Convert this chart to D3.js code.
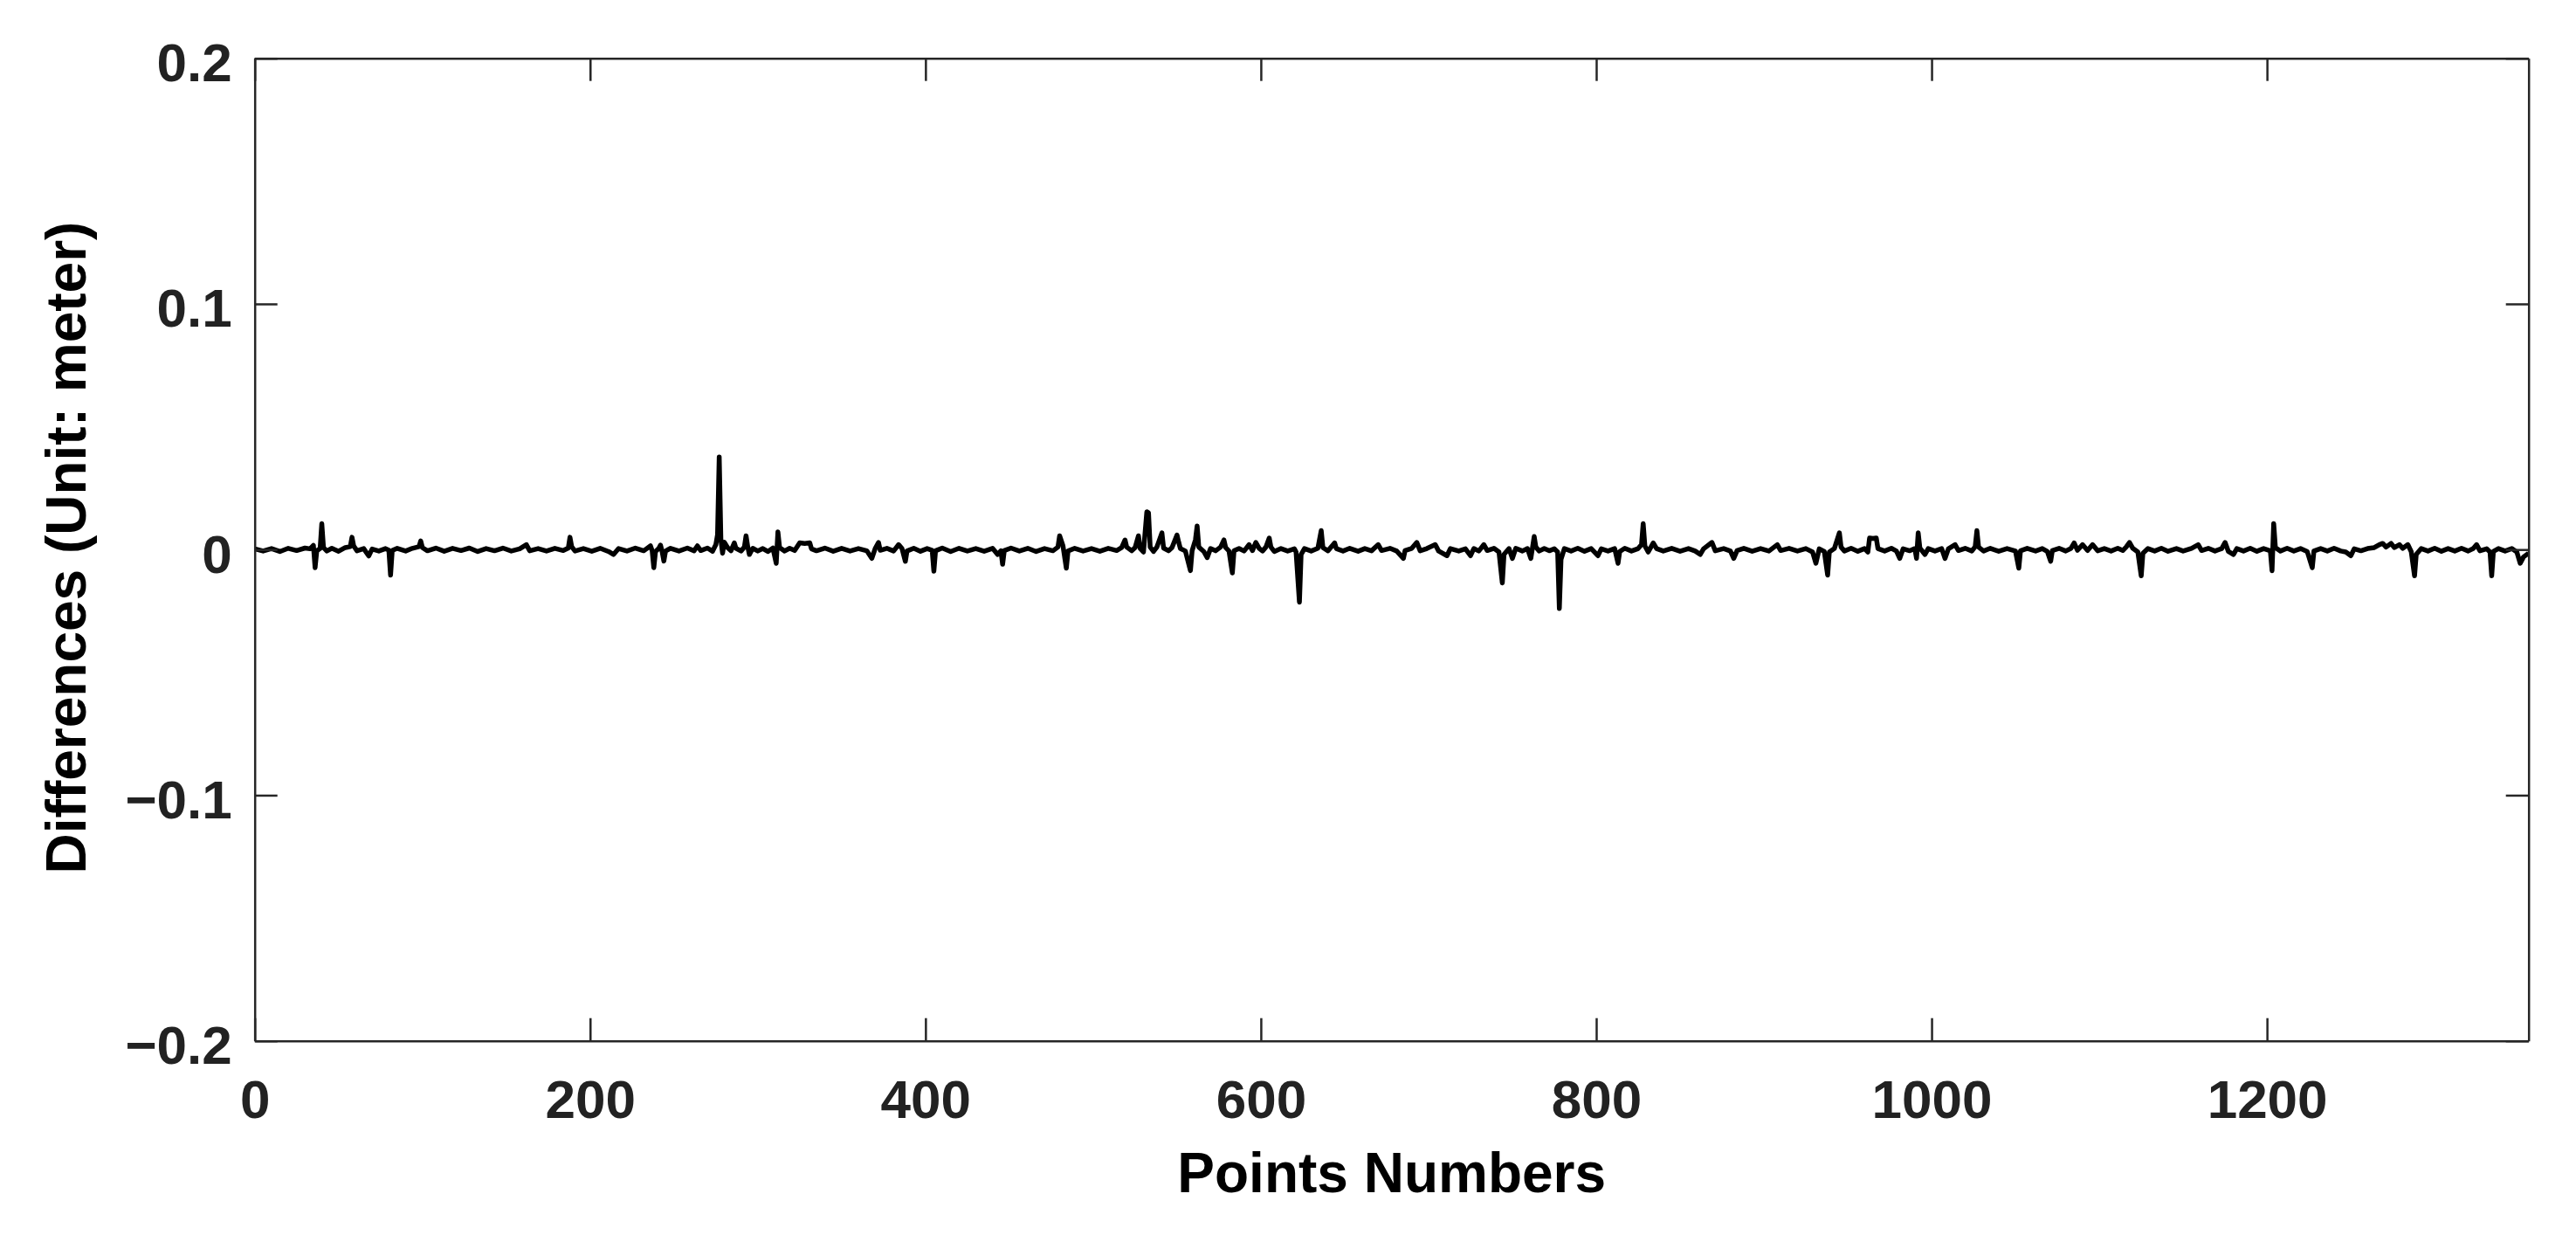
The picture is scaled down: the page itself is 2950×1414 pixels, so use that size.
<!DOCTYPE html>
<html><head><meta charset="utf-8">
<script src="https://cdn.jsdelivr.net/npm/d3@7"></script>
<style>html,body{margin:0;padding:0;background:#fff;}svg{display:block}</style>
</head><body>
<script>
// Point number / difference (m) readings taken from the chart
const pointNumbers = [
  0,5,10,15,20,25,30,33,35,36,37,39,40,41,43,46,50,54,57,58,
  59,61,65,68,70,74,78,80,81,82,85,90,94,98,99,100,103,108,113,118,
  123,128,133,138,143,148,153,158,162,164,169,174,179,184,187,188,189,191,196,201,
  206,211,214,217,222,227,232,236,237,238,239,241,242,243,244,245,248,253,258,262,
  264,266,270,273,275,276,277,278,279,280,282,284,286,287,290,292,293,294,295,297,
  300,303,306,309,311,312,313,316,319,322,325,328,331,332,335,340,345,350,355,360,
  365,368,370,372,373,377,381,384,386,388,389,393,397,401,404,405,406,410,415,420,
  425,430,435,440,443,445,446,447,451,456,461,466,471,476,479,480,482,484,485,489,
  494,499,504,509,514,517,519,520,523,525,527,528,530,532,533,534,536,538,541,542,
  545,547,550,551,552,555,558,559,561,562,563,566,568,570,573,576,578,579,581,583,
  584,587,590,593,595,597,599,601,603,605,606,608,612,616,620,621,623,624,626,630,
  634,636,637,640,644,645,649,653,658,662,666,670,672,677,681,685,686,690,693,695,
  699,704,706,711,713,718,722,725,727,730,733,735,739,742,744,745,748,750,752,756,
  759,761,763,764,766,769,772,775,777,778,779,781,785,789,793,797,801,803,807,811,
  813,814,817,821,825,827,828,829,831,834,836,840,845,850,855,859,862,864,869,871,
  876,880,882,884,888,893,898,903,908,910,915,920,925,929,931,933,936,938,939,942,
  945,946,948,952,956,960,962,963,965,967,968,972,976,979,981,983,987,990,991,992,
  993,996,998,1002,1006,1008,1010,1014,1016,1020,1024,1026,1027,1028,1031,1035,1040,1045,1050,1052,
  1053,1057,1062,1066,1069,1071,1072,1076,1080,1083,1085,1087,1090,1093,1096,1099,1103,1107,1111,1114,
  1116,1118,1120,1123,1125,1126,1129,1133,1137,1141,1146,1150,1155,1159,1161,1165,1169,1173,1175,1177,
  1180,1182,1186,1190,1194,1198,1202,1203,1204,1205,1208,1212,1216,1220,1224,1227,1228,1232,1236,1240,
  1244,1247,1250,1252,1256,1260,1264,1267,1269,1271,1274,1276,1279,1281,1284,1286,1288,1289,1292,1296,
  1300,1304,1308,1312,1316,1320,1323,1325,1327,1331,1333,1334,1335,1338,1342,1346,1349,1351,1353,1356
];
const differences = [
  0.0003,-0.0006,0.0004,-0.0008,0.0005,-0.0004,0.0006,0.0003,0.0017,-0.0074,-0.0005,0.0004,0.0106,0.0008,-0.0006,0.0005,-0.0007,0.0008,0.0012,0.0050,
  0.0015,-0.0005,0.0004,-0.0026,0.0002,-0.0006,0.0004,-0.0003,-0.0104,-0.0004,0.0005,-0.0006,0.0005,0.0012,0.0035,0.0008,-0.0005,0.0006,-0.0007,0.0005,
  -0.0004,0.0006,-0.0008,0.0004,-0.0005,0.0006,-0.0006,0.0003,0.0020,-0.0005,0.0004,-0.0006,0.0005,-0.0004,0.0006,0.0050,0.0012,-0.0006,0.0004,-0.0007,
  0.0005,-0.0008,-0.0020,0.0004,-0.0006,0.0006,-0.0005,0.0015,-0.0004,-0.0074,-0.0008,0.0005,0.0018,-0.0010,-0.0047,-0.0006,0.0005,-0.0006,0.0006,-0.0005,
  0.0015,-0.0004,0.0006,-0.0007,0.0020,0.0060,0.0377,0.0040,-0.0015,0.0030,0.0008,-0.0005,0.0027,0.0005,-0.0006,0.0010,0.0056,0.0012,-0.0020,0.0005,
  -0.0006,0.0004,-0.0008,0.0006,-0.0056,0.0072,0.0008,-0.0006,0.0005,-0.0004,0.0027,0.0025,0.0027,0.0003,-0.0005,0.0006,-0.0007,0.0005,-0.0006,0.0004,
  -0.0005,-0.0036,0.0004,0.0029,-0.0003,0.0005,-0.0006,0.0020,0.0004,-0.0048,-0.0006,0.0005,-0.0007,0.0004,-0.0003,-0.0088,-0.0005,0.0006,-0.0008,0.0005,
  -0.0006,0.0004,-0.0007,0.0005,-0.0020,-0.0005,-0.0060,-0.0004,0.0006,-0.0006,0.0005,-0.0008,0.0004,-0.0005,0.0010,0.0056,0.0015,-0.0076,-0.0006,0.0005,
  -0.0006,0.0004,-0.0007,0.0005,-0.0004,0.0008,0.0039,0.0010,-0.0005,0.0008,0.0056,0.0005,-0.0010,0.0154,0.0150,0.0010,-0.0008,0.0010,0.0068,0.0006,
  -0.0005,0.0008,0.0059,0.0030,0.0004,-0.0006,-0.0086,-0.0005,0.0040,0.0096,0.0010,-0.0008,-0.0033,0.0004,-0.0005,0.0010,0.0039,0.0008,-0.0006,-0.0095,
  -0.0005,0.0004,-0.0006,0.0020,-0.0004,0.0029,0.0005,-0.0006,0.0010,0.0047,0.0010,-0.0008,0.0004,-0.0006,0.0003,-0.0010,-0.0214,-0.0020,0.0004,-0.0006,
  0.0005,0.0077,0.0008,-0.0005,0.0027,0.0004,-0.0006,0.0005,-0.0007,0.0004,-0.0005,0.0020,-0.0004,0.0005,-0.0006,-0.0036,-0.0004,0.0005,0.0029,-0.0005,
  0.0004,0.0020,-0.0006,-0.0025,0.0004,-0.0006,0.0003,-0.0025,0.0004,-0.0006,0.0020,-0.0004,0.0005,-0.0010,-0.0136,-0.0020,0.0004,-0.0036,0.0005,-0.0006,
  0.0004,-0.0036,0.0053,0.0010,-0.0006,0.0004,-0.0005,0.0003,-0.0010,-0.0240,-0.0040,0.0004,-0.0006,0.0005,-0.0007,0.0004,-0.0025,0.0003,-0.0006,0.0004,
  -0.0056,-0.0008,0.0005,-0.0006,0.0004,0.0020,0.0106,0.0015,-0.0010,0.0027,0.0004,-0.0006,0.0005,-0.0007,0.0004,-0.0006,-0.0020,0.0003,0.0029,-0.0005,
  0.0004,-0.0006,-0.0036,-0.0004,0.0005,-0.0007,0.0004,-0.0006,0.0020,-0.0004,0.0005,-0.0006,0.0004,-0.0010,-0.0056,0.0003,-0.0008,-0.0104,-0.0010,0.0004,
  0.0068,0.0010,-0.0006,0.0005,-0.0007,0.0004,-0.0010,0.0047,0.0045,0.0047,0.0004,-0.0006,0.0005,-0.0006,-0.0036,0.0003,-0.0005,0.0004,-0.0036,0.0068,
  0.0006,-0.0020,0.0004,-0.0006,0.0004,-0.0036,0.0003,0.0020,-0.0004,0.0005,-0.0006,0.0012,0.0077,0.0010,-0.0006,0.0005,-0.0007,0.0004,-0.0006,-0.0076,
  -0.0005,0.0005,-0.0006,0.0004,-0.0008,-0.0048,-0.0004,0.0005,-0.0006,0.0004,0.0027,-0.0003,0.0020,-0.0004,0.0020,-0.0005,0.0004,-0.0006,0.0005,-0.0004,
  0.0010,0.0029,0.0005,-0.0010,-0.0107,-0.0015,0.0004,-0.0006,0.0005,-0.0007,0.0004,-0.0006,0.0005,0.0020,-0.0004,0.0005,-0.0006,0.0004,0.0029,-0.0008,
  -0.0020,0.0004,-0.0006,0.0005,-0.0007,0.0004,-0.0005,-0.0086,0.0106,0.0008,-0.0006,0.0005,-0.0006,0.0004,-0.0008,-0.0074,-0.0006,0.0004,-0.0006,0.0005,
  -0.0006,-0.0010,-0.0025,0.0003,-0.0005,0.0004,0.0008,0.0020,0.0025,0.0010,0.0025,0.0008,0.0020,0.0005,0.0020,-0.0008,-0.0107,-0.0020,0.0004,-0.0006,
  0.0005,-0.0007,0.0004,-0.0006,0.0005,-0.0006,0.0004,0.0020,-0.0005,0.0003,-0.0010,-0.0107,-0.0008,0.0004,-0.0006,0.0004,-0.0010,-0.0056,-0.0030,-0.0015
];
const xTicks = [0, 200, 400, 600, 800, 1000, 1200];
const yTicks = [-0.2, -0.1, 0, 0.1, 0.2];
const yTickLabels = ["\u22120.2", "\u22120.1", "0", "0.1", "0.2"];
const xDomain = [0, 1356];
const yDomain = [-0.2, 0.2];
const xTitle = "Points Numbers";
const yTitle = "Differences (Unit: meter)";

const W = 2950, H = 1414;
const L = 291.7, R = 2895.7, T = 66.7, B = 1191.7;
const TICK = 26;
const AX = "#262626";
const FONT = "'Liberation Sans', Arial, Helvetica, sans-serif";

const svg = d3.select("body").append("svg").attr("width", W).attr("height", H)
  .style("background", "#fff");

const x = d3.scaleLinear().domain(xDomain).range([L, R]);
const y = d3.scaleLinear().domain(yDomain).range([B, T]);

const data = pointNumbers.map((p, i) => [p, differences[i]]);

// data line (clipped to plot)
svg.append("clipPath").attr("id", "clip").append("rect")
  .attr("x", L).attr("y", T).attr("width", R - L).attr("height", B - T);
svg.append("path").datum(data)
  .attr("clip-path", "url(#clip)")
  .attr("fill", "none").attr("stroke", "#000").attr("stroke-width", 5.5)
  .attr("stroke-linejoin", "round")
  .attr("d", d3.line().x(d => x(d[0])).y(d => y(d[1])));

function styleAxis(g) {
  g.selectAll(".domain").attr("stroke", AX).attr("stroke-width", 2.5);
  g.selectAll(".tick line").attr("stroke", AX).attr("stroke-width", 2.5);
  g.selectAll("text").attr("fill", "#222").style("font-family", FONT)
    .style("font-weight", "bold").style("font-size", "62px");
}

// bottom axis
svg.append("g").attr("transform", `translate(0,${B})`)
  .call(d3.axisBottom(x).tickValues(xTicks).tickSizeInner(-TICK).tickSizeOuter(0).tickPadding(44)
    .tickFormat(d3.format("d")))
  .call(styleAxis);
// top axis (ticks only)
svg.append("g").attr("transform", `translate(0,${T})`)
  .call(d3.axisTop(x).tickValues(xTicks).tickSizeInner(-TICK).tickSizeOuter(0).tickFormat(""))
  .call(styleAxis);
// left axis
svg.append("g").attr("transform", `translate(${L},0)`)
  .call(d3.axisLeft(y).tickValues(yTicks).tickSizeInner(-TICK).tickSizeOuter(0).tickPadding(26)
    .tickFormat((d, i) => yTickLabels[i]))
  .call(styleAxis)
  .selectAll("text").attr("dy", "0.42em");
// right axis (ticks only)
svg.append("g").attr("transform", `translate(${R},0)`)
  .call(d3.axisRight(y).tickValues(yTicks).tickSizeInner(-TICK).tickSizeOuter(0).tickFormat(""))
  .call(styleAxis);

// titles
svg.append("text").attr("x", (L + R) / 2).attr("y", 1365)
  .attr("text-anchor", "middle").attr("fill", "#000")
  .style("font-family", FONT).style("font-weight", "bold").style("font-size", "64px")
  .text(xTitle);
svg.append("text").attr("transform", `translate(98,${627}) rotate(-90)`)
  .attr("text-anchor", "middle").attr("fill", "#000")
  .style("font-family", FONT).style("font-weight", "bold").style("font-size", "64px")
  .text(yTitle);
</script>
</body></html>
